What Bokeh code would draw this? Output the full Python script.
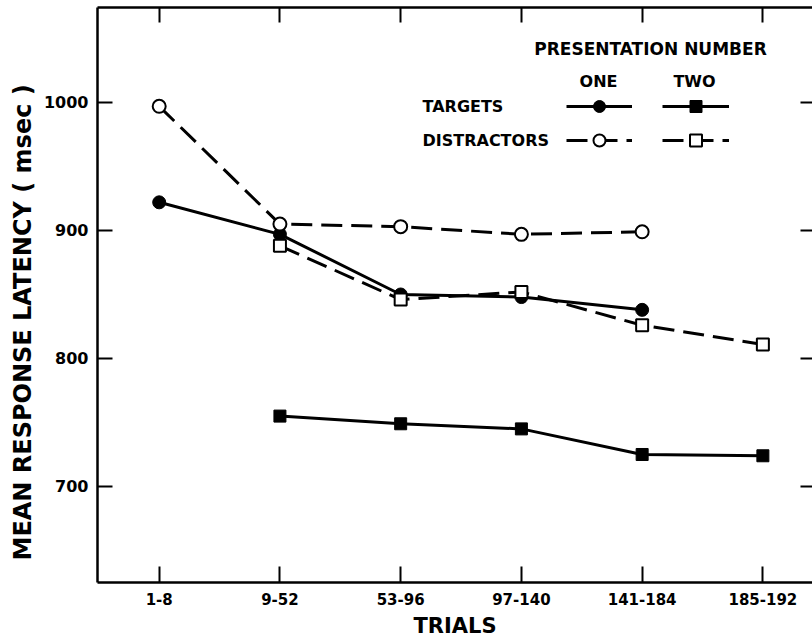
import numpy as np
from bokeh.plotting import figure
from bokeh.models import (FixedTicker, LinearAxis, Range1d, Label, Legend, LegendItem, Title)
from bokeh.core.properties import value
from bokeh.embed import file_html
from bokeh.resources import INLINE

nan = np.nan
categories = ["1-8", "9-52", "53-96", "97-140", "141-184", "185-192"]
targets_one = [922, 897, 850, 848, 838, nan]
targets_two = [nan, 755, 749, 745, 725, 724]
distractors_one = [997, 905, 903, 897, 899, nan]
distractors_two = [nan, 888, 846, 852, 826, 811]
y_ticks = [700, 800, 900, 1000]

x = list(range(len(categories)))
FONT = "DejaVu Sans"

p = figure(width=812, height=640, output_backend="svg", toolbar_location=None,
           x_range=Range1d(-0.511, 5.411), y_range=Range1d(625.0, 1074.2),
           min_border_left=97, min_border_right=0, min_border_top=7, min_border_bottom=58,
           x_axis_location=None, y_axis_location=None)
p.grid.visible = False
p.outline_line_color = None
p.background_fill_color = "white"
p.border_fill_color = "white"


def style_axis(ax, labels=True):
    ax.axis_line_width = 2.5
    ax.axis_line_color = "black"
    ax.major_tick_in = 15
    ax.major_tick_out = 0
    ax.major_tick_line_width = 2
    ax.major_tick_line_color = "black"
    ax.minor_tick_line_color = None
    ax.major_label_text_color = "black"
    ax.axis_label_text_color = "black"
    if not labels:
        ax.major_label_text_font_size = "1px"
        ax.major_label_text_color = None
        ax.major_label_standoff = 0


xb = LinearAxis(ticker=FixedTicker(ticks=x),
                major_label_overrides={i: c for i, c in enumerate(categories)},
                axis_label="TRIALS")
style_axis(xb)
xb.major_tick_in = 16
xb.major_label_text_font = FONT
xb.major_label_text_font_size = "15px"
xb.major_label_text_font_style = "bold"
xb.major_label_standoff = 10
xb.axis_label_text_font = FONT
xb.axis_label_text_font_size = "21px"
xb.axis_label_text_font_style = "bold"
xb.axis_label_standoff = 6
p.add_layout(xb, "below")

xt = LinearAxis(ticker=FixedTicker(ticks=x))
style_axis(xt, labels=False)
p.add_layout(xt, "above")

yl = LinearAxis(ticker=FixedTicker(ticks=y_ticks))
style_axis(yl)
yl.major_label_text_font = FONT
yl.major_label_text_font_size = "16px"
yl.major_label_text_font_style = "bold"
yl.major_label_standoff = 9
p.add_layout(yl, "left")

yr = LinearAxis(ticker=FixedTicker(ticks=y_ticks))
style_axis(yr, labels=False)
yr.axis_line_color = None
yr.major_tick_in = 12
p.add_layout(yr, "right")

ytitle = Title(text="MEAN RESPONSE LATENCY ( msec )", align="left", offset=22,
               text_font=FONT, text_font_size="24px", text_font_style="bold",
               text_color="black", standoff=8)
p.add_layout(ytitle, "left")

DASH = "21 9"
LW = 3
l_t1 = p.line(x, targets_one, line_color="black", line_width=LW)
l_t2 = p.line(x, targets_two, line_color="black", line_width=LW)
l_d1 = p.line(x, distractors_one, line_color="black", line_width=LW, line_dash=DASH)
l_d2 = p.line(x, distractors_two, line_color="black", line_width=LW, line_dash=DASH)

m_t1 = p.scatter(x, targets_one, marker="circle", size=13, fill_color="black", line_color="black")
m_t2 = p.scatter(x, targets_two, marker="square", size=12, fill_color="black", line_color="black")
m_d2 = p.scatter(x, distractors_two, marker="square", size=12, fill_color="white",
                 line_color="black", line_width=2)
m_d1 = p.scatter(x, distractors_one, marker="circle", size=13, fill_color="white",
                 line_color="black", line_width=2)


def make_legend(items, loc, w):
    lg = Legend(items=items, location=loc, glyph_width=w, glyph_height=30,
                spacing=4, padding=0, margin=0, label_standoff=0,
                label_text_font_size="1px", label_text_color=None, label_height=30,
                border_line_color=None, background_fill_alpha=0)
    p.add_layout(lg, "center")


make_legend([LegendItem(label=value(" "), renderers=[l_t1, m_t1]),
             LegendItem(label=value(" "), renderers=[l_d1, m_d1])], (469, 427), 66)
make_legend([LegendItem(label=value(" "), renderers=[l_t2, m_t2]),
             LegendItem(label=value(" "), renderers=[l_d2, m_d2])], (565, 427), 67)


def add_label(text, xs, ys, align="left", size="16px"):
    p.add_layout(Label(x=xs, y=ys, x_units="screen", y_units="screen", text=text,
                       text_font=FONT, text_font_size=size, text_font_style="bold",
                       text_align=align, text_baseline="middle", text_color="black"))


add_label("PRESENTATION NUMBER", 553, 534, "center", "17px")
add_label("ONE", 501, 501, "center")
add_label("TWO", 597, 501, "center")
add_label("TARGETS", 325, 476)
add_label("DISTRACTORS", 325, 442)

open("out.html", "w").write(file_html(p, INLINE))
